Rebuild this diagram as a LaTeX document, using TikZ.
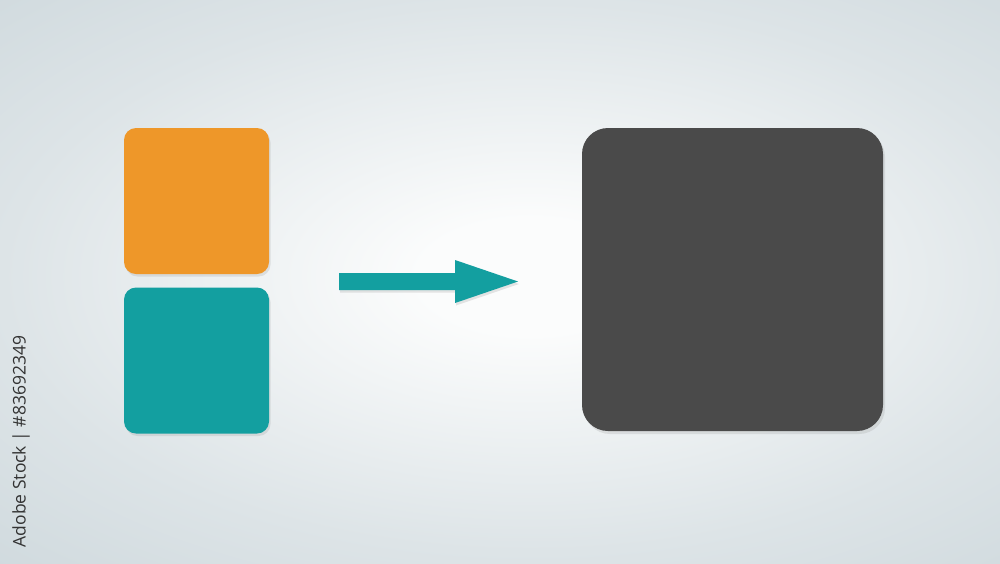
\documentclass[tikz,border=0pt]{standalone}
\usepackage{fontspec}
\newfontfamily\wmfont{Open Sans}
\usetikzlibrary{shadows}
\definecolor{bgcenter}{HTML}{FBFCFC}
\definecolor{bgmid}{HTML}{DDE4E7}
\definecolor{bgedge}{HTML}{C6D2D7}
\definecolor{bgfar}{HTML}{BBC8CE}
\definecolor{orangebox}{HTML}{EE9729}
\definecolor{tealbox}{HTML}{139FA0}
\definecolor{darkbox}{HTML}{4A4A4A}
\definecolor{wmtext}{HTML}{333333}
\pgfdeclareradialshading{bgshade}{\pgfpoint{0bp}{0bp}}{color(0bp)=(bgcenter); color(5bp)=(bgcenter); color(24bp)=(bgmid); color(44bp)=(bgedge); color(62bp)=(bgfar); color(80bp)=(bgfar)}
\tikzset{
  smallbox/.style={rounded corners=12pt, minimum width=145pt, minimum height=146pt, inner sep=0pt,
    drop shadow={opacity=0.18, shadow xshift=1.5pt, shadow yshift=-2.5pt}},
  bigbox/.style={rounded corners=26pt, minimum width=301pt, minimum height=303pt, inner sep=0pt, fill=darkbox,
    drop shadow={opacity=0.18, shadow xshift=2pt, shadow yshift=-3pt}},
  arrowshape/.style={fill=tealbox, drop shadow={opacity=0.2, shadow xshift=1pt, shadow yshift=-2.5pt}}
}
\begin{document}
\begin{tikzpicture}[x=1pt,y=-1pt]
\useasboundingbox (0,0) rectangle (1000,563);
\shade[shading=bgshade] (-20,-10) rectangle (1080,563);
\node[smallbox, fill=orangebox] (orange) at (196.5,201) {};
\node[smallbox, fill=tealbox] (teal) at (196.5,360.5) {};
\node[bigbox] (dark) at (732.5,279.5) {};
\coordinate (tail) at (339,281.5);
\coordinate (tip) at (518,281.5);
\fill[arrowshape] (tail) ++(0,-8.5) -- ++(116,0) -- ++(0,-13) -- (tip) -- ++(-63,21.5) -- ++(0,-13) -- ++(-116,0) -- cycle;
\node[rotate=90, text=wmtext, font=\wmfont\fontsize{17.5}{18}\selectfont, inner sep=0pt] (credit) at (21,441.5) {Adobe Stock | \#83692349};
\end{tikzpicture}
\end{document}
